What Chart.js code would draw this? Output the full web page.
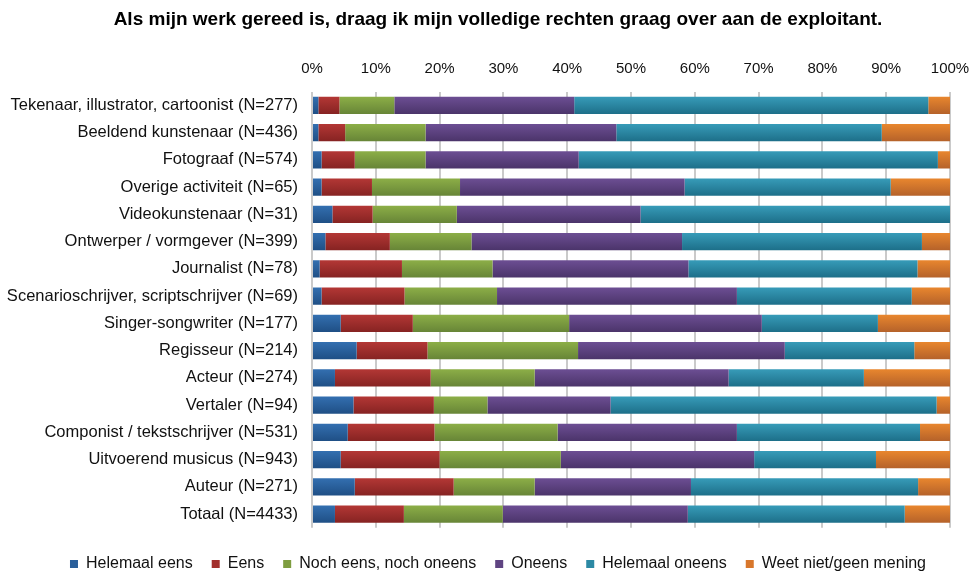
<!DOCTYPE html>
<html>
<head>
<meta charset="utf-8">
<script src="https://cdn.jsdelivr.net/npm/chart.js@4"></script>
<style>
  body { margin: 0; background: #fff; }
  #holder { width: 972px; height: 572px; }
</style>
</head>
<body>
<div id="holder"><canvas id="myChart"></canvas></div>
<script>
// categories (top to bottom)
const categories = [
  'Tekenaar, illustrator, cartoonist (N=277)',
  'Beeldend kunstenaar (N=436)',
  'Fotograaf (N=574)',
  'Overige activiteit (N=65)',
  'Videokunstenaar (N=31)',
  'Ontwerper / vormgever (N=399)',
  'Journalist (N=78)',
  'Scenarioschrijver, scriptschrijver (N=69)',
  'Singer-songwriter (N=177)',
  'Regisseur (N=214)',
  'Acteur (N=274)',
  'Vertaler (N=94)',
  'Componist / tekstschrijver (N=531)',
  'Uitvoerend musicus (N=943)',
  'Auteur (N=271)',
  'Totaal (N=4433)'
]

// percentages per answer
const helemaalEens = [1.0, 1.0, 1.5, 1.5, 3.2, 2.1, 1.2, 1.5, 4.5, 7.0, 3.6, 6.5, 5.6, 4.5, 6.7, 3.6]
const eens = [3.3, 4.2, 5.2, 7.9, 6.3, 10.1, 12.9, 13.0, 11.3, 11.1, 15.0, 12.6, 13.6, 15.5, 15.5, 10.8]
const nochNoch = [8.6, 12.6, 11.1, 13.8, 13.2, 12.8, 14.2, 14.5, 24.5, 23.6, 16.3, 8.4, 19.3, 19.0, 12.7, 15.5]
const oneens = [28.2, 29.9, 24.0, 35.2, 28.8, 33.0, 30.7, 37.6, 30.2, 32.4, 30.4, 19.3, 28.1, 30.3, 24.5, 29.0]
const helemaalOneens = [55.5, 41.6, 56.3, 32.3, 48.5, 37.6, 35.9, 27.4, 18.2, 20.3, 21.2, 51.1, 28.7, 19.1, 35.6, 34.0]
const weetNiet = [3.4, 10.7, 1.9, 9.3, 0.0, 4.4, 5.1, 6.0, 11.3, 5.6, 13.5, 2.1, 4.7, 11.6, 5.0, 7.1]

const xTicks = [0, 10, 20, 30, 40, 50, 60, 70, 80, 90, 100]

const font = '"Liberation Sans", Arial, sans-serif'
const barPct = 0.63

// light top, dark bottom like the original office chart
function barGradient(top, bottom){
    return function(c){
        let s = c.chart.scales.y
        if(!s || !s.height) return top
        let yc = s.getPixelForValue(c.dataIndex)
        let h = (s.height / categories.length) * barPct
        let g = c.chart.ctx.createLinearGradient(0, yc - h / 2, 0, yc + h / 2)
        g.addColorStop(0, top)
        g.addColorStop(1, bottom)
        return g
    }
}

function makeSet(label, data, top, bottom, legendColor){
    return {
        label: label,
        data: data,
        backgroundColor: barGradient(top, bottom),
        legendColor: legendColor,
        borderWidth: 0,
        barPercentage: barPct,
        categoryPercentage: 1
    }
}

const datasets = [
    makeSet('Helemaal eens', helemaalEens, '#336fb0', '#1f4f85', '#2a5f9a'),
    makeSet('Eens', eens, '#b33735', '#862322', '#a22f2d'),
    makeSet('Noch eens, noch oneens', nochNoch, '#8cae47', '#678537', '#7e9d40'),
    makeSet('Oneens', oneens, '#6c4e93', '#4b346a', '#5f4482'),
    makeSet('Helemaal oneens', helemaalOneens, '#379bb8', '#1d6f89', '#2c89a4'),
    makeSet('Weet niet/geen mening', weetNiet, '#e8862e', '#b5622a', '#d8772c')
]

let ctx = document.getElementById('myChart').getContext('2d')

new Chart(ctx, {
    type: 'bar',
    data: { labels: categories, datasets: datasets },
    options: {
        indexAxis: 'y',
        responsive: true,
        maintainAspectRatio: false,
        animation: false,
        layout: { padding: { top: 8, left: 46, right: 22, bottom: -10 } },
        scales: {
            x: {
                position: 'top',
                stacked: true,
                min: 0,
                max: 100,
                afterBuildTicks: function(axis){
                    axis.ticks = xTicks.map(v => ({ value: v }))
                },
                ticks: {
                    callback: v => v + '%',
                    color: '#111',
                    font: { family: font, size: 15 },
                    padding: 1, //tick padding also pushes the right edge in, so the gap comes from tickLength
                    maxRotation: 0
                },
                grid: { color: '#cacaca', lineWidth: 2, drawTicks: true, tickLength: 13, tickColor: 'rgba(0,0,0,0)' },
                border: { display: false }
            },
            y: {
                stacked: true,
                afterFit: function(axis){
                    axis.width = 266
                    axis._computeLabelArea = () => undefined //long labels reach into the left padding, don't clip them
                },
                ticks: {
                    color: '#111',
                    font: { family: font, size: 16.5 },
                    padding: 14,
                    autoSkip: false
                },
                grid: { display: false, drawTicks: false },
                border: { display: false }
            }
        },
        plugins: {
            title: {
                display: true,
                text: 'Als mijn werk gereed is, draag ik mijn volledige rechten graag over aan de exploitant.',
                color: '#000',
                font: { family: font, size: 19, weight: 'bold' },
                padding: { top: 0, bottom: 28 }
            },
            legend: {
                position: 'bottom',
                title: { display: true, text: ' ', font: { size: 1 }, padding: { top: 0, bottom: 8 } },
                labels: {
                    boxWidth: 8,
                    boxHeight: 8,
                    padding: 19,
                    color: '#111',
                    font: { family: font, size: 16 },
                    generateLabels: function(chart){
                        return chart.data.datasets.map((d, i) => ({
                            text: d.label,
                            fillStyle: d.legendColor,
                            strokeStyle: d.legendColor,
                            lineWidth: 0,
                            datasetIndex: i,
                            fontColor: '#111'
                        }))
                    }
                }
            },
            tooltip: { enabled: false }
        }
    }
})
</script>
</body>
</html>
